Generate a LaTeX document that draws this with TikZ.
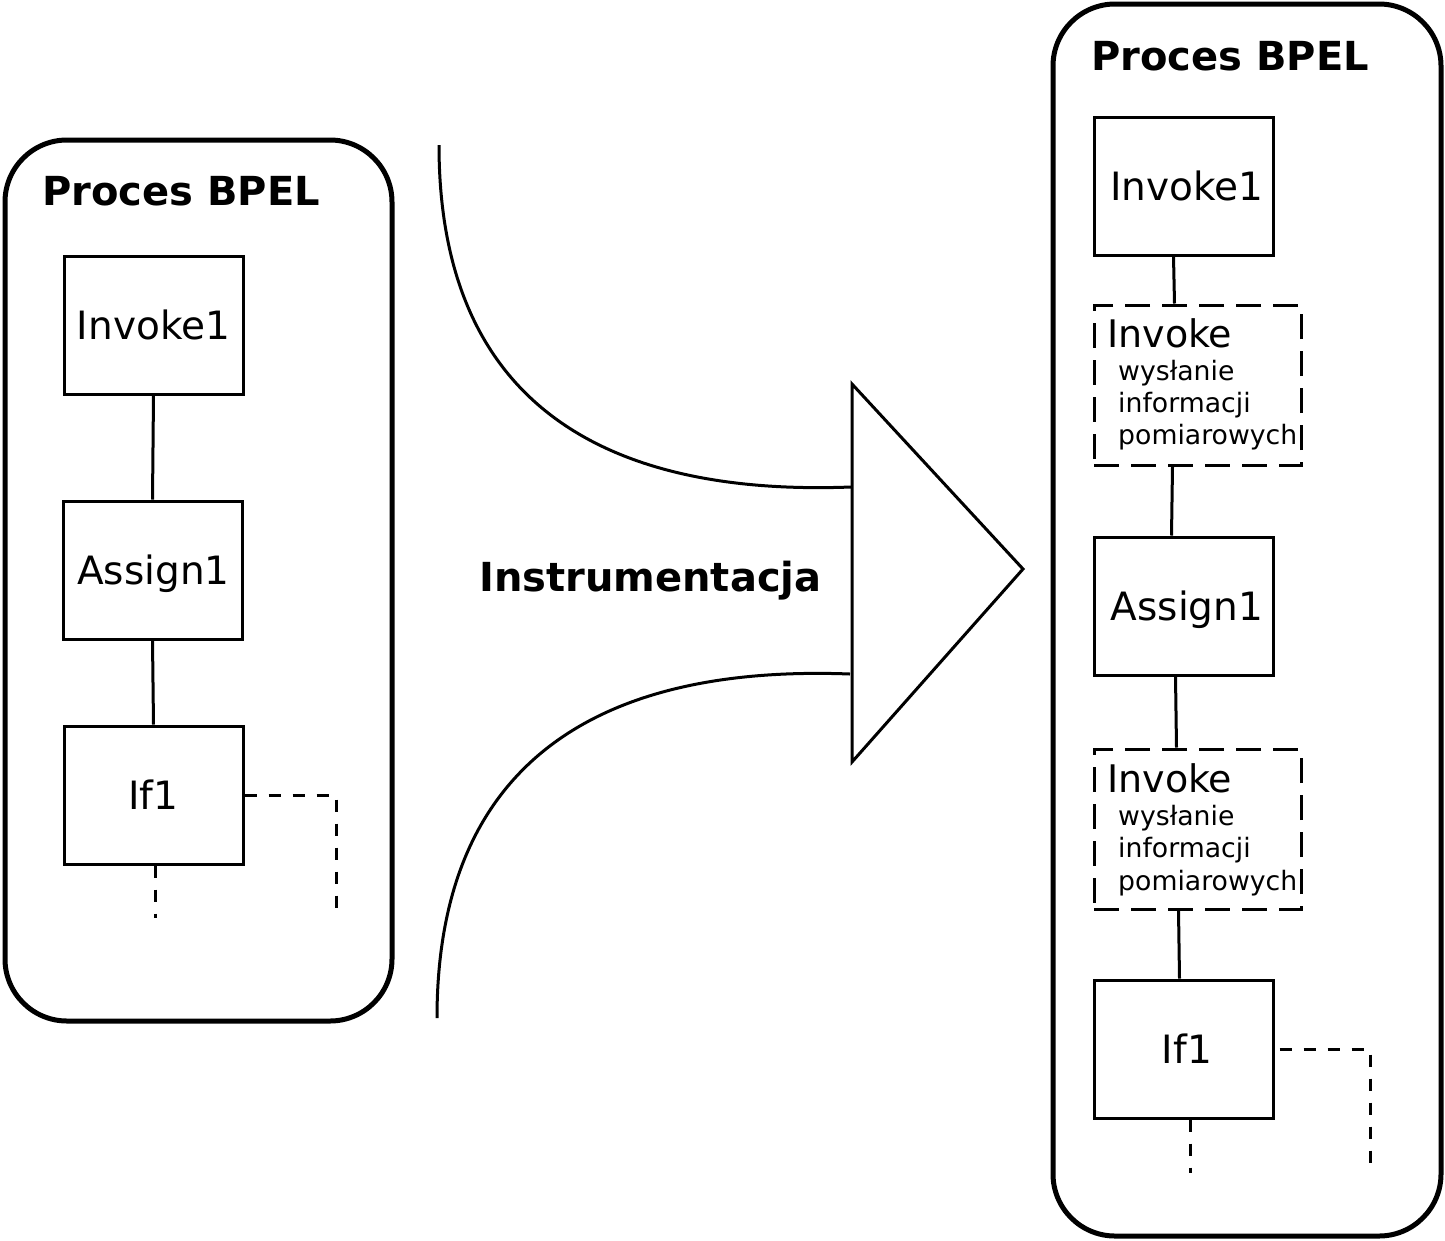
\documentclass[tikz,border=0pt]{standalone}
\usepackage{fontspec}
\setmainfont{DejaVu Sans}
\begin{document}
\begin{tikzpicture}[x=1pt,y=-1pt,
  box/.style={draw,line width=3pt,minimum width=179pt,minimum height=138pt,inner sep=0pt,font=\fontsize{39}{46}\selectfont,text height=28pt,text depth=0pt},
  dbox/.style={draw,line width=3pt,dash pattern=on 25pt off 12pt,minimum width=207pt,minimum height=160pt,inner sep=0pt},
  proc/.style={draw,line width=5pt,rounded corners=62pt,inner sep=0pt},
  title/.style={font=\fontsize{40}{48}\selectfont\bfseries,anchor=base west,inner sep=0pt},
  big/.style={font=\fontsize{38}{46}\selectfont,anchor=base west,inner sep=0pt},
  small/.style={font=\fontsize{26.7}{32}\selectfont,anchor=base west,inner sep=0pt},
  conn/.style={line width=3pt},
  dconn/.style={line width=3pt,dash pattern=on 12pt off 12pt}]
\useasboundingbox (0,0) rectangle (1445,1240);

% containers
\node[proc,minimum width=387pt,minimum height=881pt] (lproc) at (198.5,580.5) {};
\node[proc,minimum width=388pt,minimum height=1232pt] (rproc) at (1247,620) {};

\node[title] (ltitle) at (42,205) {Proces BPEL};
\node[title] (rtitle) at (1091,70) {Proces BPEL};
\node[title] (instr) at (479,591) {Instrumentacja};

% left process
\node[box] (lin) at (153.5,325) {Invoke1};
\node[box] (las) at (152.5,570) {\hspace*{2pt}Assign1};
\node[box] (lif) at (153.5,795) {If1};
\draw[conn] (lin.south) -- (las.north);
\draw[conn] (las.south) -- (lif.north);
\coordinate (lbr) at (336,912);
\coordinate (ldn) at (155,918);
\draw[dconn] (lif.east) -- (lbr |- lif.east) -- (lbr);
\draw[dconn] ([xshift=1.5pt]lif.south) -- (ldn);

% right process
\node[box] (rin) at (1183.5,186) {\hspace*{7pt}Invoke1};
\node[dbox] (d1) at (1197.5,385) {};
\node[big] (d1a) at (1107,347) {Invoke};
\node[small] (d1b) at (1118,380) {wysłanie};
\node[small] (d1c) at (1118,412) {informacji};
\node[small] (d1d) at (1118,444) {pomiarowych};
\node[box] (ras) at (1183.5,606) {\hspace*{7pt}Assign1};
\node[dbox] (d2) at (1197.5,829) {};
\node[big] (d2a) at (1107,792) {Invoke};
\node[small] (d2b) at (1118,825) {wysłanie};
\node[small] (d2c) at (1118,857) {informacji};
\node[small] (d2d) at (1118,890) {pomiarowych};
\node[box] (rif) at (1183.5,1049) {\hspace*{7pt}If1};

\draw[conn] ([xshift=81pt]rin.south west) -- ([xshift=82pt]d1.north west);
\draw[conn] ([xshift=80pt]d1.south west) -- ([xshift=79pt]ras.north west);
\draw[conn] ([xshift=83pt]ras.south west) -- ([xshift=84pt]d2.north west);
\draw[conn] ([xshift=86pt]d2.south west) -- ([xshift=87pt]rif.north west);
\coordinate (rbr) at (1370,1165);
\coordinate (rdn) at (1190,1173);
\draw[dconn] ([xshift=5pt]rif.east) -- (rbr |- rif.east) -- (rbr);
\draw[dconn] ([xshift=6.5pt]rif.south) -- (rdn);

% big arrow
\coordinate (ttop) at (852,384);
\coordinate (ttip) at (1023,569);
\coordinate (tbot) at (852,762);
\draw[conn,line join=miter] (ttop) -- (ttip) -- (tbot) -- cycle;
\coordinate (c1s) at (439,145);
\coordinate (c1e) at (851,487);
\coordinate (c2s) at (437,1018);
\coordinate (c2e) at (850,674);
\draw[conn] (c1s) .. controls (439,430) and (640,495) .. (c1e);
\draw[conn] (c2s) .. controls (437,731) and (640,666) .. (c2e);
\end{tikzpicture}
\end{document}
